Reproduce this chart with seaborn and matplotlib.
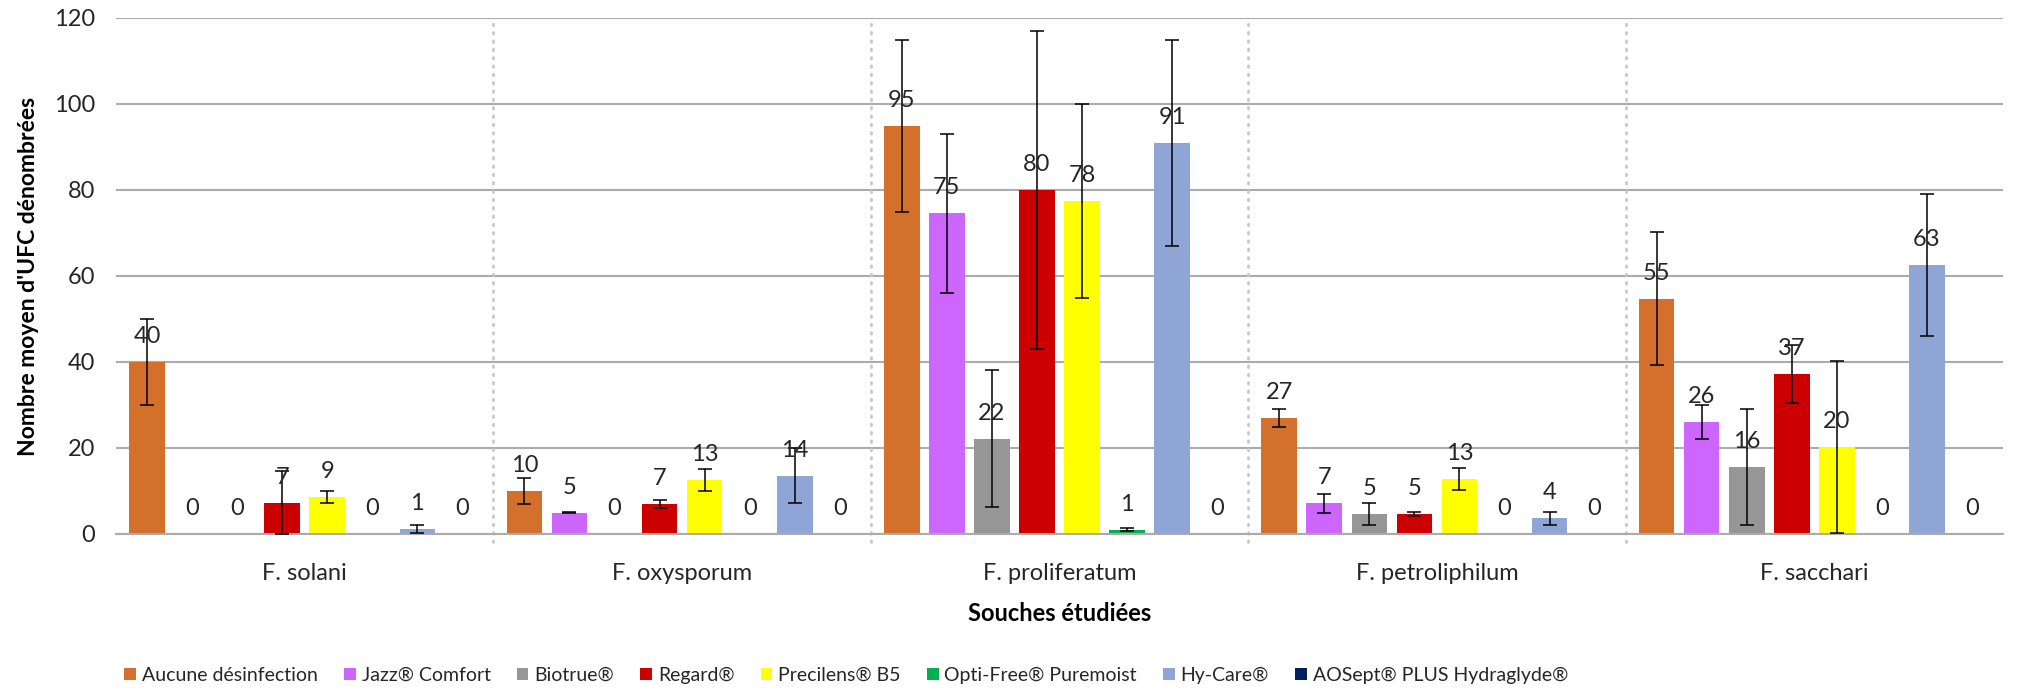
import numpy as np
import pandas as pd
import matplotlib
matplotlib.use("Agg")
import matplotlib.pyplot as plt
from matplotlib.container import BarContainer
import seaborn as sns

categories = ["F. solani", "F. oxysporum", "F. proliferatum", "F. petroliphilum", "F. sacchari"]
series = ["Aucune désinfection", "Jazz® Comfort", "Biotrue®", "Regard®", "Precilens® B5",
          "Opti-Free® Puremoist", "Hy-Care®", "AOSept® PLUS Hydraglyde®"]
colors = ["#D2702C", "#CC66FF", "#969696", "#CC0000", "#FFFF00", "#00B050", "#8FA5D5", "#002060"]

aucune = [40, 10, 95, 27, 54.7]
jazz = [0, 5, 74.6, 7.2, 26]
biotrue = [0, 0, 22.2, 4.7, 15.6]
regard = [7.2, 7, 80, 4.7, 37.2]
precilens = [8.6, 12.6, 77.5, 12.8, 20.2]
optifree = [0, 0, 1, 0, 0]
hycare = [1.2, 13.6, 91, 3.7, 62.6]
aosept = [0, 0, 0, 0, 0]

aucune_err = [10, 3, 20, 2, 15.5]
jazz_err = [0, 0.2, 18.5, 2.2, 4]
biotrue_err = [0, 0, 16, 2.5, 13.5]
regard_err = [7.5, 1, 37, 0.5, 6.8]
precilens_err = [1.5, 2.5, 22.5, 2.6, 20]
optifree_err = [0, 0, 0.3, 0, 0]
hycare_err = [0.9, 6.5, 24, 1.5, 16.5]
aosept_err = [0, 0, 0, 0, 0]

values = [aucune, jazz, biotrue, regard, precilens, optifree, hycare, aosept]
errors = [aucune_err, jazz_err, biotrue_err, regard_err, precilens_err, optifree_err, hycare_err, aosept_err]

rows = []
for s, vals, errs in zip(series, values, errors):
    for c, v, e in zip(categories, vals, errs):
        rows.append({"Souche": c, "Produit": s, "Valeur": v, "Err": e})
df = pd.DataFrame(rows)

sns.set_theme(style="white")
plt.rcParams["font.family"] = ["Lato", "DejaVu Sans"]

fig = plt.figure(figsize=(20.18, 6.95), dpi=100)
ax = fig.add_axes([116 / 2018, 1 - 534 / 695, 1887 / 2018, 516 / 695])

sns.barplot(data=df, x="Souche", y="Valeur", hue="Produit", order=categories, hue_order=series,
            palette=colors, width=0.955, gap=0.21, errorbar=None, ax=ax, legend=True,
            linewidth=0, saturation=1)

bar_containers = [c for c in ax.containers if isinstance(c, BarContainer)]
for i, cont in enumerate(bar_containers):
    errs = errors[i]
    vals = values[i]
    for j, bar in enumerate(cont):
        xc = bar.get_x() + bar.get_width() / 2
        h = bar.get_height()
        e = errs[j]
        if e > 0:
            lo = min(e, h)
            ax.errorbar(xc, h, yerr=[[lo], [e]], fmt="none", ecolor="black", elinewidth=1.1,
                        capsize=4.7, capthick=1.1, zorder=4)
        ax.annotate(f"{vals[j]:.0f}", (xc, h), xytext=(0, 13.5), textcoords="offset points",
                    ha="center", va="baseline", fontsize=17, color="#262626", zorder=5)

ax.set_ylim(0, 120)
ax.set_xlim(-0.5, len(categories) - 0.5)
ax.set_yticks(np.arange(0, 121, 20))
ax.yaxis.grid(True, color="#ABABAB", linewidth=1.5)
ax.set_axisbelow(True)
for b in range(1, len(categories)):
    ax.axvline(b - 0.5, ymin=-0.015, ymax=0.992, color="#C8C8C8", linestyle=(0, (0.6, 2.4)),
               linewidth=2.0, dash_capstyle="round", clip_on=False, zorder=1)
for sp in ["top", "right", "left"]:
    ax.spines[sp].set_visible(False)
ax.spines["bottom"].set_color("#ABABAB")
ax.spines["bottom"].set_linewidth(1.5)
ax.tick_params(axis="y", labelsize=17, colors="#262626", length=0, pad=15)
ax.tick_params(axis="x", labelsize=17, colors="#262626", length=0, pad=21)
ax.set_ylabel("Nombre moyen d'UFC dénombrées", fontsize=16.5, fontweight="bold", color="#000000", labelpad=11)
ax.set_xlabel("Souches étudiées", fontsize=17, fontweight="bold", color="#000000", labelpad=13)

handles, labels = ax.get_legend_handles_labels()
ax.get_legend().remove()
fig.legend(handles, labels, loc="center left", bbox_to_anchor=(0.053, 0.028), ncol=8,
           frameon=False, handlelength=0.6, handleheight=0.6, handletextpad=0.3,
           columnspacing=1.35, prop={"family": ["Lato", "DejaVu Sans"], "size": 14})

fig.savefig("out.png", dpi=100)
